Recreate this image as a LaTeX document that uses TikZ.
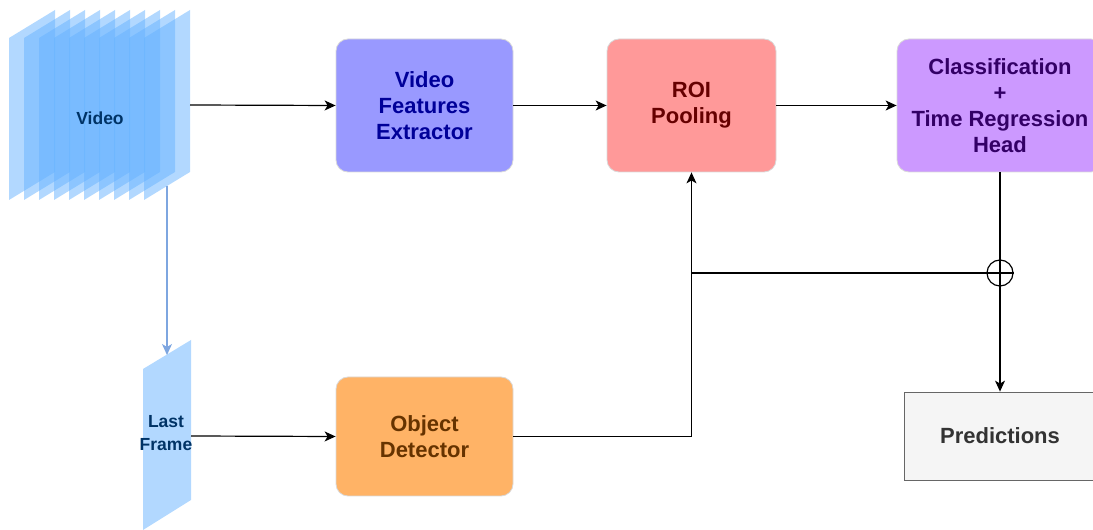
\documentclass[tikz,border=0pt]{standalone}
\usepackage{fontspec}
\setmainfont{Liberation Sans}
\usetikzlibrary{arrows.meta}

\definecolor{frameBlue}{HTML}{66B2FF}
\definecolor{downBlue}{HTML}{7EA6E0}
\definecolor{vfeFill}{HTML}{9999FF}
\definecolor{vfeText}{HTML}{000099}
\definecolor{roiFill}{HTML}{FF9999}
\definecolor{roiText}{HTML}{660000}
\definecolor{clsFill}{HTML}{CC99FF}
\definecolor{clsText}{HTML}{330066}
\definecolor{odFill}{HTML}{FFB366}
\definecolor{odText}{HTML}{663300}
\definecolor{predFill}{HTML}{F5F5F5}
\definecolor{predLine}{HTML}{666666}
\definecolor{predText}{HTML}{333333}
\definecolor{frameText}{HTML}{003366}

\begin{document}
\begin{tikzpicture}[x=1pt, y=1pt, >={Stealth[length=11pt,width=10pt,inset=3pt]}, line width=1.2pt,
	block/.style={rounded corners=12pt, draw=black!15, line width=0.8pt, align=center, inner sep=0pt,
		font=\fontsize{22}{26}\selectfont\bfseries},
	vidframe/.style={fill=frameBlue, fill opacity=0.5, draw=none},
	frametext/.style={align=center, text=frameText, font=\fontsize{17.5}{23}\selectfont\bfseries}]
	
	\useasboundingbox (0,0) rectangle (1093,530);
	
	% 1. video frame stack and last frame
	\foreach \i in {0,...,9}
		\fill[vidframe] ({9+15*\i},330) -- ({55+15*\i},358) -- ({55+15*\i},520) -- ({9+15*\i},492) -- cycle;
	\fill[vidframe] (143,0) -- (191,30) -- (191,190) -- (143,161) -- cycle;
	\node[frametext] (video) at (100,412) {Video};
	\node[frametext] (lastframe) at (166,97) {Last\\Frame};
	\coordinate (vidout) at (190,425);
	\coordinate (vidbot) at (167,344);
	\coordinate (lastin) at (167,175);
	\coordinate (lastout) at (191,94);
	
	% 2. blocks
	\node[block, fill=vfeFill, text=vfeText, minimum width=177, minimum height=133] (vfe) at (424.5,424.5) {Video\\Features\\Extractor};
	\node[block, fill=roiFill, text=roiText, minimum width=169, minimum height=133] (roi) at (691.5,424.5) {ROI\\Pooling};
	\node[block, fill=clsFill, text=clsText, minimum width=206, minimum height=133] (cls) at (1000,424.5) {Classification\\+\\Time Regression\\Head};
	\node[block, fill=odFill, text=odText, minimum width=177, minimum height=119] (od) at (424.5,93.5) {Object\\Detector};
	\node[block, rounded corners=0pt, fill=predFill, draw=predLine, text=predText, minimum width=192, minimum height=88] (pred) at (1000,94) {Predictions};
	\node[draw, circle, line width=1.2pt, minimum size=26, inner sep=0pt] (oplus) at (1000,257) {};
	
	% 3. connectors
	\draw[->] (vidout) -- (vfe.west);
	\draw[->] (vfe.east) -- (roi.west);
	\draw[->] (roi.east) -- (cls.west);
	\draw[->, downBlue] (vidbot) -- (lastin);
	\draw[->] (lastout) -- (od.west);
	\draw[->] (od.east) -| (roi.south);
	\coordinate (jn) at (roi.south |- oplus);
	\draw (jn) -- (oplus.east);
	\draw[->] (cls.south) -- (pred.north);
	
\end{tikzpicture}
\end{document}
